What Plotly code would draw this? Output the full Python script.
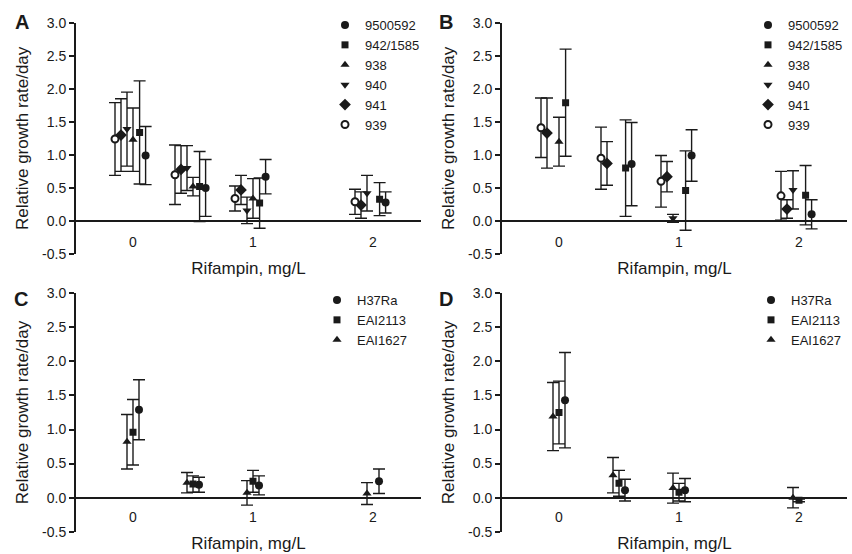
import plotly.graph_objects as go

# Rifampin concentrations (mg/L); 0.5 is plotted but not labelled on the axis
rifampin_doses = [0, 0.5, 1, 2]
x_tick_values = [0, 1, 2]
x_tick_labels = ["0", "1", "2"]
y_tick_values = [-0.5, 0.0, 0.5, 1.0, 1.5, 2.0, 2.5, 3.0]
y_tick_labels = ["-0.5", "0.0", "0.5", "1.0", "1.5", "2.0", "2.5", "3.0"]

clinical_strains = ["9500592", "942/1585", "938", "940", "941", "939"]
reference_strains = ["H37Ra", "EAI2113", "EAI1627"]

# Panel A: relative growth rate/day, mean and SD per dose (None = no value)
a_9500592 = [0.99, 0.50, 0.67, 0.28]
a_9500592_sd = [0.44, 0.43, 0.26, 0.16]
a_942_1585 = [1.34, 0.52, 0.27, 0.33]
a_942_1585_sd = [0.78, 0.53, 0.38, 0.25]
a_938 = [1.23, 0.52, 0.34, None]
a_938_sd = [0.48, 0.14, 0.30, None]
a_940 = [1.39, 0.80, 0.16, 0.42]
a_940_sd = [0.56, 0.34, 0.20, 0.27]
a_941 = [1.30, 0.78, 0.47, 0.24]
a_941_sd = [0.55, 0.36, 0.22, 0.20]
a_939 = [1.24, 0.70, 0.34, 0.29]
a_939_sd = [0.55, 0.45, 0.19, 0.19]

# Panel B
b_9500592 = [None, 0.86, 0.99, 0.10]
b_9500592_sd = [None, 0.63, 0.39, 0.22]
b_942_1585 = [1.79, 0.80, 0.46, 0.39]
b_942_1585_sd = [0.81, 0.73, 0.60, 0.45]
b_938 = [1.20, None, None, None]
b_938_sd = [0.37, None, None, None]
b_940 = [None, None, 0.04, 0.47]
b_940_sd = [None, None, 0.06, 0.29]
b_941 = [1.33, 0.87, 0.67, 0.18]
b_941_sd = [0.53, 0.33, 0.23, 0.14]
b_939 = [1.41, 0.95, 0.60, 0.38]
b_939_sd = [0.45, 0.47, 0.39, 0.37]

# Panel C
c_h37ra = [1.29, 0.19, 0.18, 0.24]
c_h37ra_sd = [0.44, 0.11, 0.14, 0.18]
c_eai2113 = [0.96, 0.20, 0.24, None]
c_eai2113_sd = [0.48, 0.12, 0.16, None]
c_eai1627 = [0.82, 0.22, 0.07, 0.06]
c_eai1627_sd = [0.40, 0.15, 0.18, 0.16]

# Panel D
d_h37ra = [1.43, 0.11, 0.11, None]
d_h37ra_sd = [0.70, 0.16, 0.17, None]
d_eai2113 = [1.25, 0.21, 0.08, -0.04]
d_eai2113_sd = [0.46, 0.19, 0.13, 0.02]
d_eai1627 = [1.19, 0.33, 0.14, 0.00]
d_eai1627_sd = [0.50, 0.26, 0.22, 0.15]

FONT = "Liberation Sans, Arial, sans-serif"
INK = "#1a1a1a"

# marker style and horizontal nudge (in dose units) per strain
style = {
    "9500592": ("circle", 8, 0.105),
    "942/1585": ("square", 7, 0.055),
    "938": ("triangle-up", 8, 0.0),
    "940": ("triangle-down", 8, -0.05),
    "941": ("diamond", 9, -0.10),
    "939": ("circle", 7, -0.15),
    "H37Ra": ("circle", 8, 0.05),
    "EAI2113": ("square", 7, 0.0),
    "EAI1627": ("triangle-up", 8, -0.05),
}

panels = [
    ("x", "y", "legend", [
        ("9500592", a_9500592, a_9500592_sd), ("942/1585", a_942_1585, a_942_1585_sd),
        ("938", a_938, a_938_sd), ("940", a_940, a_940_sd),
        ("941", a_941, a_941_sd), ("939", a_939, a_939_sd)]),
    ("x2", "y2", "legend2", [
        ("9500592", b_9500592, b_9500592_sd), ("942/1585", b_942_1585, b_942_1585_sd),
        ("938", b_938, b_938_sd), ("940", b_940, b_940_sd),
        ("941", b_941, b_941_sd), ("939", b_939, b_939_sd)]),
    ("x3", "y3", "legend3", [
        ("H37Ra", c_h37ra, c_h37ra_sd), ("EAI2113", c_eai2113, c_eai2113_sd),
        ("EAI1627", c_eai1627, c_eai1627_sd)]),
    ("x4", "y4", "legend4", [
        ("H37Ra", d_h37ra, d_h37ra_sd), ("EAI2113", d_eai2113, d_eai2113_sd),
        ("EAI1627", d_eai1627, d_eai1627_sd)]),
]

fig = go.Figure()
for xa, ya, leg, series in panels:
    for name, means, sds in series:
        symbol, size, nudge = style[name]
        xs, ys, es = [], [], []
        for dose, m, s in zip(rifampin_doses, means, sds):
            if m is None:
                continue
            xs.append(dose + nudge)
            ys.append(m)
            es.append(s)
        hollow = name == "939"
        fig.add_trace(go.Scatter(
            x=xs, y=ys, mode="markers", name=name,
            xaxis=xa, yaxis=ya, legend=leg,
            marker=dict(symbol=symbol, size=size,
                        color="white" if hollow else INK,
                        line=dict(color=INK, width=2 if hollow else 0)),
            error_y=dict(type="data", array=es, color=INK, thickness=1.4, width=6),
        ))

W, H = 852, 554
left_dom = [76 / W, 421 / W]
right_dom = [502 / W, 847 / W]
top_dom = [1 - 254 / H, 1 - 22.7 / H]
bot_dom = [1 - 531.7 / H, 1 - 293.3 / H]
top_xpos = 1 - 232 / H
bot_xpos = 1 - 507 / H


def x_axis(domain, pos):
    return dict(domain=domain, anchor="free", position=pos,
                range=[-0.475, 2.4], tickmode="array",
                tickvals=x_tick_values, ticktext=x_tick_labels,
                showline=False, ticks="", showgrid=False, zeroline=False,
                tickfont=dict(family=FONT, size=14, color=INK),
                title=dict(text="Rifampin, mg/L", standoff=13,
                           font=dict(family=FONT, size=17, color=INK)),
                automargin=False)


def y_axis(domain, anchor):
    return dict(domain=domain, anchor=anchor, range=[-0.5, 3.0],
                tickmode="array", tickvals=y_tick_values, ticktext=y_tick_labels,
                showline=True, linecolor=INK, linewidth=2,
                ticks="outside", ticklen=5, tickwidth=2, tickcolor=INK,
                showgrid=False, zeroline=True, zerolinecolor=INK, zerolinewidth=2,
                tickfont=dict(family=FONT, size=14, color=INK),
                title=dict(text="Relative growth rate/day", standoff=9,
                           font=dict(family=FONT, size=17, color=INK)),
                automargin=False)


def legend_at(px, py):
    return dict(x=px / W, y=1 - py / H, xanchor="left", yanchor="top",
                font=dict(family=FONT, size=13, color=INK),
                bgcolor="rgba(0,0,0,0)", itemwidth=30, tracegroupgap=0)


fig.update_layout(
    width=W, height=H, margin=dict(l=0, r=0, t=0, b=0),
    paper_bgcolor="white", plot_bgcolor="white",
    font=dict(family=FONT, color=INK),
    showlegend=True,
    xaxis=x_axis(left_dom, top_xpos), yaxis=y_axis(top_dom, "x"),
    xaxis2=x_axis(right_dom, top_xpos), yaxis2=y_axis(top_dom, "x2"),
    xaxis3=x_axis(left_dom, bot_xpos), yaxis3=y_axis(bot_dom, "x3"),
    xaxis4=x_axis(right_dom, bot_xpos), yaxis4=y_axis(bot_dom, "x4"),
    legend=legend_at(325, 10),
    legend2=legend_at(748, 10),
    legend3=legend_at(317, 285),
    legend4=legend_at(751, 285),
)

for letter, lx, ly in [("A", 22, 22), ("B", 446, 22), ("C", 21, 299), ("D", 446, 299)]:
    fig.add_annotation(text=f"<b>{letter}</b>", x=lx / W, y=1 - ly / H,
                       xref="paper", yref="paper", showarrow=False,
                       xanchor="center", yanchor="middle",
                       font=dict(family=FONT, size=20, color=INK))

fig.write_html("out.html")
